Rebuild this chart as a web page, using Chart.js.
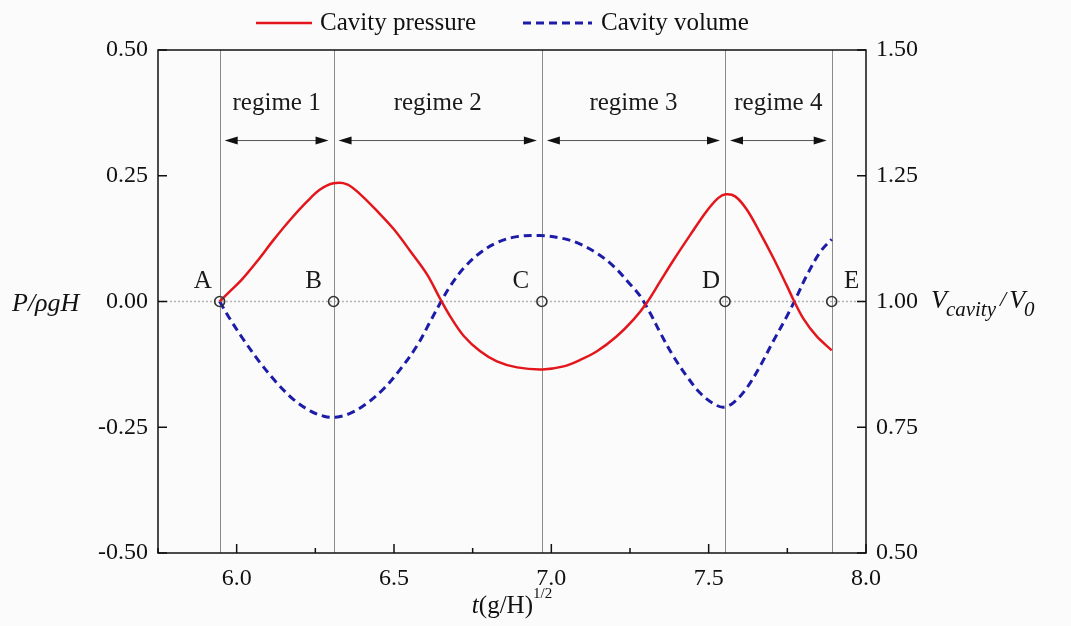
<!DOCTYPE html>
<html>
<head>
<meta charset="utf-8">
<script src="https://cdn.jsdelivr.net/npm/chart.js@4.4.1/dist/chart.umd.min.js"></script>
<style>
  html, body { margin: 0; padding: 0; background: #fbfbfb; }
</style>
</head>
<body>
<canvas id="cavityChart" width="1071" height="626"></canvas>
<script>
// time axis t(g/H)^1/2 and the two series
const pressureT = [5.946, 5.980, 6.017, 6.065, 6.118, 6.171, 6.224, 6.266, 6.308, 6.351, 6.393, 6.446,
  6.499, 6.552, 6.605, 6.647, 6.679, 6.721, 6.774, 6.827, 6.891, 6.972, 7.039, 7.092, 7.145, 7.208,
  7.261, 7.303, 7.346, 7.388, 7.441, 7.494, 7.531, 7.554, 7.584, 7.621, 7.663, 7.706, 7.748, 7.769,
  7.801, 7.843, 7.891];
const pressureP = [0.000, 0.021, 0.044, 0.080, 0.123, 0.163, 0.199, 0.223, 0.235, 0.233, 0.213, 0.180,
  0.144, 0.100, 0.054, 0.005, -0.030, -0.068, -0.099, -0.119, -0.131, -0.135, -0.129, -0.116, -0.099, -0.069,
  -0.036, -0.003, 0.040, 0.082, 0.132, 0.180, 0.206, 0.213, 0.209, 0.183, 0.137, 0.086, 0.032, 0.004,
  -0.034, -0.069, -0.097];

const volumeT = [5.946, 5.980, 6.022, 6.075, 6.128, 6.181, 6.235, 6.277, 6.314, 6.362, 6.415, 6.468,
  6.521, 6.574, 6.615, 6.647, 6.679, 6.721, 6.774, 6.827, 6.891, 6.965, 7.039, 7.092, 7.145, 7.198,
  7.251, 7.282, 7.314, 7.346, 7.388, 7.431, 7.473, 7.515, 7.547, 7.579, 7.621, 7.663, 7.706, 7.748,
  7.780, 7.812, 7.854, 7.891];
const volumeV = [1.000, 0.964, 0.924, 0.878, 0.838, 0.805, 0.782, 0.772, 0.770, 0.778, 0.798, 0.827,
  0.866, 0.913, 0.960, 0.997, 1.031, 1.066, 1.097, 1.117, 1.129, 1.131, 1.125, 1.114, 1.096, 1.070,
  1.034, 1.011, 0.977, 0.938, 0.891, 0.851, 0.818, 0.797, 0.790, 0.799, 0.828, 0.871, 0.922, 0.970,
  1.010, 1.052, 1.098, 1.124];

const eventT = [5.946, 6.308, 6.970, 7.552, 7.891];
const eventLabels = ['A', 'B', 'C', 'D', 'E'];
const regimeLabels = ['regime 1', 'regime 2', 'regime 3', 'regime 4'];
const seriesNames = ['Cavity pressure', 'Cavity volume'];

const xTicks = [6.0, 6.5, 7.0, 7.5, 8.0];
const xMinorTicks = [5.75, 6.25, 6.75, 7.25, 7.75];
const pTicks = [-0.5, -0.25, 0, 0.25, 0.5];
const vTicks = [0.5, 0.75, 1.0, 1.25, 1.5];

const SERIF = '"Liberation Serif", "Times New Roman", serif';
const RED = '#e3161c';
const BLUE = '#1c1ca8';

const toPoints = (xs, ys) => xs.map((x, i) => ({ x: x, y: ys[i] }));

const fixTicks = (values) => (scale) => {
  scale.ticks = values.map((v) => ({ value: v }));
};

const decor = {
  id: 'decor',
  beforeDraw(chart) {
    const { ctx } = chart;
    ctx.save();
    ctx.fillStyle = '#fbfbfb';
    ctx.fillRect(0, 0, chart.width, chart.height);
    ctx.restore();
  },
  beforeDatasetsDraw(chart) {
    const { ctx, chartArea: a } = chart;
    const xs = chart.scales.x;
    const ys = chart.scales.y;
    const y0 = ys.getPixelForValue(0);
    ctx.save();

    // dotted zero line
    ctx.strokeStyle = '#b5b5b5';
    ctx.lineWidth = 1.5;
    ctx.setLineDash([2, 2]);
    ctx.beginPath();
    ctx.moveTo(a.left, y0);
    ctx.lineTo(a.right, y0);
    ctx.stroke();
    ctx.setLineDash([]);

    // event lines
    ctx.strokeStyle = '#8a8a8a';
    ctx.lineWidth = 1;
    eventT.forEach((t) => {
      const px = Math.round(xs.getPixelForValue(t)) + 0.5;
      ctx.beginPath();
      ctx.moveTo(px, a.top);
      ctx.lineTo(px, a.bottom);
      ctx.stroke();
    });

    // regime arrows and names
    const yArrow = ys.getPixelForValue(0.32);
    const yText = ys.getPixelForValue(0.394);
    ctx.font = '25px ' + SERIF;
    ctx.textAlign = 'center';
    ctx.textBaseline = 'middle';
    for (let i = 0; i < regimeLabels.length; i++) {
      const x1 = xs.getPixelForValue(eventT[i]) + 5;
      const x2 = xs.getPixelForValue(eventT[i + 1]) - 5;
      ctx.strokeStyle = '#555';
      ctx.lineWidth = 1;
      ctx.beginPath();
      ctx.moveTo(x1 + 6, yArrow);
      ctx.lineTo(x2 - 6, yArrow);
      ctx.stroke();
      ctx.fillStyle = '#111';
      ctx.beginPath();
      ctx.moveTo(x1, yArrow);
      ctx.lineTo(x1 + 13, yArrow - 4);
      ctx.lineTo(x1 + 13, yArrow + 4);
      ctx.closePath();
      ctx.fill();
      ctx.beginPath();
      ctx.moveTo(x2, yArrow);
      ctx.lineTo(x2 - 13, yArrow - 4);
      ctx.lineTo(x2 - 13, yArrow + 4);
      ctx.closePath();
      ctx.fill();
      ctx.fillStyle = '#1a1a1a';
      ctx.fillText(regimeLabels[i], (x1 + x2) / 2, yText);
    }

    // event letters
    const offsets = [-17, -20, -21, -14, 20];
    ctx.font = '25px ' + SERIF;
    eventT.forEach((t, i) => {
      ctx.fillText(eventLabels[i], xs.getPixelForValue(t) + offsets[i], y0 - 20);
    });
    ctx.restore();
  },
  afterDraw(chart) {
    const { ctx, chartArea: a } = chart;
    const xs = chart.scales.x;
    const ys = chart.scales.y;
    const vs = chart.scales.y1;
    ctx.save();

    // frame and inward ticks
    ctx.strokeStyle = '#111';
    ctx.lineWidth = 1.5;
    ctx.strokeRect(a.left, a.top, a.right - a.left, a.bottom - a.top);
    ctx.beginPath();
    xTicks.forEach((v) => {
      const px = xs.getPixelForValue(v);
      ctx.moveTo(px, a.bottom);
      ctx.lineTo(px, a.bottom - 9);
    });
    xMinorTicks.forEach((v) => {
      const px = xs.getPixelForValue(v);
      ctx.moveTo(px, a.bottom);
      ctx.lineTo(px, a.bottom - 5);
    });
    pTicks.forEach((v) => {
      const py = ys.getPixelForValue(v);
      ctx.moveTo(a.left, py);
      ctx.lineTo(a.left + 9, py);
    });
    vTicks.forEach((v) => {
      const py = vs.getPixelForValue(v);
      ctx.moveTo(a.right, py);
      ctx.lineTo(a.right - 9, py);
    });
    ctx.stroke();

    ctx.fillStyle = '#111';
    ctx.textBaseline = 'alphabetic';
    ctx.textAlign = 'left';
    const yMid = ys.getPixelForValue(0);

    // left title
    ctx.font = 'italic 26px ' + SERIF;
    ctx.fillText('P/\u03c1gH', 12, yMid + 9);

    // right title: V_cavity / V_0
    let x = 931;
    ctx.font = 'italic 26px ' + SERIF;
    ctx.fillText('V', x, yMid + 6);
    x += ctx.measureText('V').width - 1;
    ctx.font = 'italic 21px ' + SERIF;
    ctx.fillText('cavity', x, yMid + 14);
    x += ctx.measureText('cavity').width + 4;
    ctx.font = 'italic 22px ' + SERIF;
    ctx.fillText('/', x, yMid + 4);
    x += ctx.measureText('/').width + 3;
    ctx.font = 'italic 26px ' + SERIF;
    ctx.fillText('V', x, yMid + 6);
    x += ctx.measureText('V').width - 1;
    ctx.font = 'italic 21px ' + SERIF;
    ctx.fillText('0', x, yMid + 14);

    // bottom title: t(g/H)^1/2
    const cx = (a.left + a.right) / 2;
    ctx.font = 'italic 25px ' + SERIF;
    const wT = ctx.measureText('t').width;
    ctx.font = '25px ' + SERIF;
    const wMain = ctx.measureText('(g/H)').width;
    ctx.font = '15px ' + SERIF;
    const wSup = ctx.measureText('1/2').width;
    let bx = cx - (wT + wMain + wSup) / 2;
    const by = 613;
    ctx.font = 'italic 25px ' + SERIF;
    ctx.fillText('t', bx, by);
    bx += wT;
    ctx.font = '25px ' + SERIF;
    ctx.fillText('(g/H)', bx, by);
    bx += wMain;
    ctx.font = '15px ' + SERIF;
    ctx.fillText('1/2', bx, by - 15);

    // legend
    const ly = 23;
    ctx.lineWidth = 2.5;
    ctx.strokeStyle = RED;
    ctx.beginPath();
    ctx.moveTo(256, ly);
    ctx.lineTo(312, ly);
    ctx.stroke();
    ctx.strokeStyle = BLUE;
    ctx.lineWidth = 3;
    ctx.setLineDash([8, 5]);
    ctx.beginPath();
    ctx.moveTo(523, ly);
    ctx.lineTo(592, ly);
    ctx.stroke();
    ctx.setLineDash([]);
    ctx.font = '25px ' + SERIF;
    ctx.textBaseline = 'middle';
    ctx.fillText(seriesNames[0], 320, ly);
    ctx.fillText(seriesNames[1], 601, ly);
    ctx.restore();
  }
};

const ctx = document.getElementById('cavityChart').getContext('2d');
new Chart(ctx, {
  type: 'line',
  data: {
    datasets: [
      {
        label: 'Events',
        data: eventT.map((t) => ({ x: t, y: 0 })),
        yAxisID: 'y',
        showLine: false,
        pointRadius: 5,
        pointBorderWidth: 1.6,
        pointBorderColor: '#333',
        pointBackgroundColor: 'rgba(255,255,255,0)',
        order: 0,
      },
      {
        label: seriesNames[0],
        data: toPoints(pressureT, pressureP),
        yAxisID: 'y',
        borderColor: RED,
        borderWidth: 2.5,
        pointRadius: 0,
        tension: 0.35,
        order: 1,
      },
      {
        label: seriesNames[1],
        data: toPoints(volumeT, volumeV),
        yAxisID: 'y1',
        borderColor: BLUE,
        borderWidth: 3,
        borderDash: [8, 5],
        pointRadius: 0,
        tension: 0.35,
        order: 2,
      },
    ],
  },
  options: {
    responsive: false,
    animation: false,
    layout: { padding: { top: 50, left: 0, right: 0, bottom: 0 } },
    plugins: {
      legend: { display: false },
      tooltip: { enabled: false },
    },
    scales: {
      x: {
        type: 'linear',
        min: 5.75,
        max: 8.0,
        afterBuildTicks: fixTicks(xTicks),
        afterFit: (s) => { s.height = 73; },
        grid: { display: false, drawTicks: false },
        border: { display: false },
        ticks: {
          padding: 11,
          color: '#111',
          font: { family: SERIF, size: 24 },
          callback: (v) => Number(v).toFixed(1),
        },
      },
      y: {
        position: 'left',
        min: -0.5,
        max: 0.5,
        afterBuildTicks: fixTicks(pTicks),
        afterFit: (s) => { s.width = 158; },
        grid: { display: false, drawTicks: false },
        border: { display: false },
        ticks: {
          padding: 10,
          color: '#111',
          font: { family: SERIF, size: 24 },
          callback: (v) => Number(v).toFixed(2),
        },
      },
      y1: {
        position: 'right',
        min: 0.5,
        max: 1.5,
        afterBuildTicks: fixTicks(vTicks),
        afterFit: (s) => { s.width = 205; },
        grid: { display: false, drawTicks: false },
        border: { display: false },
        ticks: {
          padding: 10,
          color: '#111',
          font: { family: SERIF, size: 24 },
          callback: (v) => Number(v).toFixed(2),
        },
      },
    },
  },
  plugins: [decor],
});
</script>
</body>
</html>
